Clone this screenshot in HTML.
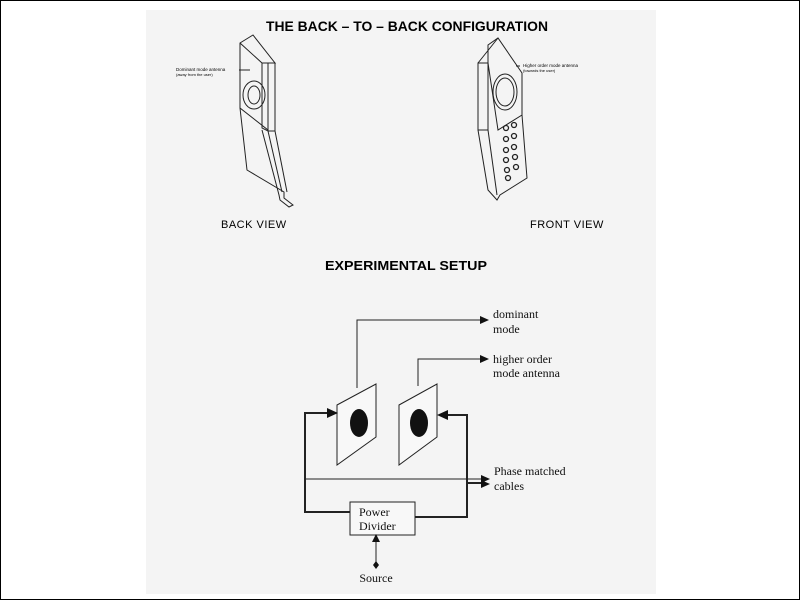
<!DOCTYPE html>
<html><head><style>
html,body{margin:0;padding:0;background:#fff}
svg{display:block}
</style></head><body>
<svg width="800" height="600" viewBox="0 0 800 600" xmlns="http://www.w3.org/2000/svg" font-family="Liberation Sans, sans-serif">
<rect x="0" y="0" width="800" height="600" fill="#fff"/>
<rect x="146" y="10" width="510" height="584" fill="#f4f4f4"/>
<rect x="0.5" y="0.5" width="799" height="599" fill="none" stroke="#000" stroke-width="1"/>
<text x="407" y="31" text-anchor="middle" font-size="14" font-weight="bold" textLength="282" lengthAdjust="spacingAndGlyphs">THE BACK – TO – BACK CONFIGURATION</text>
<g fill="none" stroke="#222" stroke-width="1">
<polygon points="240,43 253,35 275,63 268,63 268,130 240,108"/>
<line x1="240" y1="43" x2="262" y2="63"/>
<polygon points="262,63 275,63 275,131 268,131 262,128"/>
<polyline points="240,108 247,170 284,192 284,198 293,205 289,207 280,200 279,195 262,130"/>
<line x1="268" y1="131" x2="275" y2="131"/>
<line x1="275" y1="131" x2="287" y2="192"/>
<line x1="268" y1="131" x2="282" y2="192"/>
<ellipse cx="254" cy="95" rx="11" ry="14"/>
<ellipse cx="254" cy="95" rx="6" ry="9"/>
<line x1="239" y1="70" x2="250" y2="70"/>
<polygon points="478,63 488,63 488,130 478,130"/>
<polygon points="488,63 488,45 498,38 522,73 522,115 498,130"/>
<line x1="478" y1="63" x2="498" y2="38"/>
<polyline points="478,130 488,190 497,200 500,195 527,178 522,115"/>
<line x1="488" y1="130" x2="497" y2="195"/>
<ellipse cx="505" cy="92" rx="12" ry="18"/>
<ellipse cx="505" cy="92" rx="9" ry="14"/>
<line x1="516" y1="66" x2="520" y2="66"/>
</g>
<g fill="none" stroke="#222" stroke-width="1.3">
<circle cx="506" cy="128" r="2.5"/><circle cx="514" cy="125" r="2.5"/>
<circle cx="506" cy="139" r="2.5"/><circle cx="514" cy="136" r="2.5"/>
<circle cx="506" cy="150" r="2.5"/><circle cx="514" cy="147" r="2.5"/>
<circle cx="506" cy="160" r="2.5"/><circle cx="515" cy="157" r="2.5"/>
<circle cx="507" cy="170" r="2.5"/><circle cx="516" cy="167" r="2.5"/>
<circle cx="508" cy="178" r="2.5"/>
</g>
<text x="176" y="71" font-size="4.5">Dominant mode antenna</text>
<text x="176" y="76" font-size="4">(away from the user)</text>
<text x="523" y="67" font-size="4.5">Higher order mode antenna</text>
<text x="523" y="72" font-size="4">(towards the user)</text>
<text x="221" y="228" font-size="11" letter-spacing="0.5">BACK VIEW</text>
<text x="530" y="228" font-size="11" letter-spacing="0.5">FRONT VIEW</text>
<text x="406" y="270" text-anchor="middle" font-size="13" font-weight="bold" textLength="162" lengthAdjust="spacingAndGlyphs">EXPERIMENTAL  SETUP</text>
<g fill="none" stroke="#222" stroke-width="1">
<polyline points="357,388 357,320 482,320"/>
<polyline points="418,386 418,359 482,359"/>
<polygon points="337,405 376,384 376,437 337,465" fill="#f8f8f8"/>
<polygon points="399,405 437,384 437,437 399,465" fill="#f8f8f8"/>
<line x1="305" y1="479" x2="483" y2="479"/>
<rect x="350" y="502" width="65" height="33" fill="#f8f8f8"/>
<line x1="376" y1="540" x2="376" y2="565"/>
</g>
<g fill="none" stroke="#222" stroke-width="2">
<polyline points="330,413 305,413 305,512 350,512"/>
<polyline points="415,517 467,517 467,415 445,415"/>
<line x1="467" y1="483" x2="483" y2="483"/>
</g>
<g fill="#111">
<polygon points="489,320 480,316 480,324"/>
<polygon points="489,359 480,355 480,363"/>
<polygon points="338,413 327,408 327,418"/>
<polygon points="437,415 448,410 448,420"/>
<polygon points="490,479 481,475 481,483"/>
<polygon points="490,484 481,480 481,488"/>
<polygon points="376,534 372,542 380,542"/>
<polygon points="376,561 379,565 376,569 373,565"/>
<ellipse cx="359" cy="423" rx="9" ry="14"/>
<ellipse cx="419" cy="423" rx="9" ry="14"/>
</g>
<g font-family="Liberation Serif, serif" font-size="12" fill="#111">
<text x="493" y="318">dominant</text>
<text x="493" y="333">mode</text>
<text x="493" y="363">higher order</text>
<text x="493" y="377">mode antenna</text>
<text x="494" y="475">Phase matched</text>
<text x="494" y="490">cables</text>
<text x="359" y="516">Power</text>
<text x="359" y="530">Divider</text>
<text x="376" y="582" text-anchor="middle">Source</text>
</g>
</svg>
</body></html>
